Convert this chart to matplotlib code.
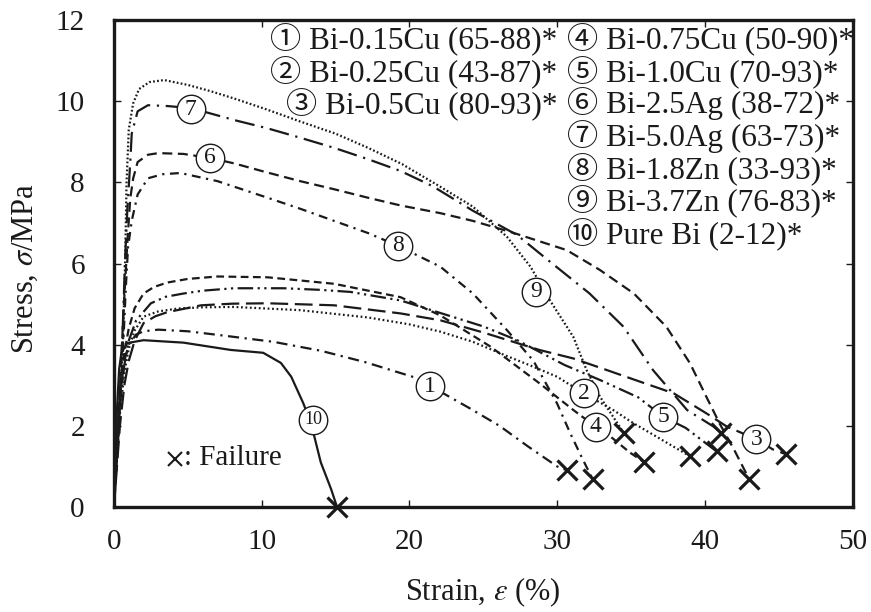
import matplotlib
matplotlib.use('Agg')
import matplotlib.pyplot as plt

plt.rcParams['font.family'] = ['Liberation Serif', 'Noto Sans CJK JP']
plt.rcParams['mathtext.fontset'] = 'stix'

# stress-strain curves (strain %, stress MPa)
strain_1 = [0, 0.2, 0.4, 0.7, 1.0, 1.5, 2.0, 3.0, 5.0, 7.5, 10.8, 14.0, 17.0, 20.3, 22.3, 24.0, 26.1, 28.0, 30.0, 30.7]
stress_1 = [0, 1.5, 2.7, 3.6, 4.0, 4.25, 4.33, 4.37, 4.33, 4.22, 4.07, 3.85, 3.57, 3.2, 2.8, 2.45, 2.0, 1.5, 1.0, 0.9]

strain_2 = [0, 0.2, 0.4, 0.7, 1.0, 1.4, 2.0, 3.0, 4.3, 6.0, 8.1, 12.6, 17.2, 20.0, 22.1, 24.3, 26.6, 28.3, 30.0, 31.8, 33.8, 35.1, 37.4, 39.0]
stress_2 = [0, 1.2, 2.3, 3.3, 3.9, 4.35, 4.69, 4.82, 4.89, 4.92, 4.93, 4.85, 4.67, 4.5, 4.32, 4.07, 3.72, 3.47, 3.21, 2.8, 2.39, 2.08, 1.59, 1.25]

strain_3 = [0, 0.2, 0.4, 0.7, 1.0, 1.4, 2.0, 2.8, 3.6, 5.9, 8.0, 10.4, 14.9, 19.4, 22.1, 25.0, 28.8, 31.1, 33.4, 35.6, 37.9, 40.1, 41.5, 43.5, 44.6, 45.5]
stress_3 = [0, 1.0, 2.0, 3.0, 3.6, 4.1, 4.53, 4.7, 4.8, 4.97, 5.01, 5.02, 4.97, 4.77, 4.6, 4.3, 3.87, 3.66, 3.37, 3.09, 2.8, 2.31, 1.98, 1.67, 1.42, 1.3]

strain_4 = [0, 0.2, 0.4, 0.7, 1.0, 1.4, 2.0, 2.7, 3.6, 5.0, 7.0, 10.4, 14.9, 19.4, 22.1, 25.5, 27.7, 28.8, 31.1, 32.6, 33.6, 34.9, 35.9]
stress_4 = [0, 1.5, 2.8, 3.8, 4.4, 4.9, 5.26, 5.42, 5.53, 5.62, 5.68, 5.66, 5.5, 5.17, 4.72, 3.95, 3.35, 3.05, 2.39, 1.98, 1.74, 1.35, 1.1]

strain_5 = [0, 0.2, 0.4, 0.7, 1.0, 1.5, 2.5, 3.5, 4.7, 6.0, 8.1, 11.5, 14.0, 16.0, 19.4, 22.1, 25.0, 27.3, 30.5, 32.9, 35.5, 37.2, 38.7, 40.8]
stress_5 = [0, 1.3, 2.5, 3.5, 4.1, 4.6, 5.02, 5.18, 5.26, 5.33, 5.39, 5.39, 5.35, 5.3, 5.09, 4.78, 4.45, 4.11, 3.5, 3.13, 2.7, 2.22, 1.95, 1.37]

strain_6 = [0, 0.3, 0.6, 0.9, 1.1, 1.3, 1.6, 2.3, 3.0, 4.7, 6.5, 8.1, 10.3, 12.6, 14.9, 17.2, 19.4, 22.1, 24.3, 27.0, 30.65, 32.9, 35.2, 37.4, 39.0, 40.1, 41.0, 42.0, 43.0]
stress_6 = [0, 2.0, 4.5, 6.5, 7.6, 8.1, 8.5, 8.68, 8.72, 8.7, 8.6, 8.47, 8.25, 8.03, 7.83, 7.62, 7.43, 7.24, 7.05, 6.76, 6.33, 5.84, 5.26, 4.44, 3.54, 2.72, 2.06, 1.4, 0.69]

strain_7 = [0, 0.3, 0.6, 0.75, 0.9, 1.1, 1.2, 1.6, 2.3, 3.6, 5.2, 6.3, 8.3, 10.4, 12.6, 14.9, 17.2, 19.4, 21.6, 24.3, 27.3, 29.5, 32.2, 34.5, 36.5, 38.8, 40.6, 41.1]
stress_7 = [0, 2.0, 4.5, 6.1, 7.3, 8.5, 9.2, 9.75, 9.9, 9.88, 9.83, 9.72, 9.52, 9.33, 9.1, 8.85, 8.57, 8.28, 7.9, 7.3, 6.7, 6.05, 5.26, 4.44, 3.37, 2.39, 1.98, 1.83]

strain_8 = [0, 0.3, 0.6, 0.8, 0.95, 1.2, 1.6, 2.3, 3.3, 4.5, 7.0, 10.4, 12.6, 14.9, 17.2, 19.2, 22.1, 24.3, 26.6, 28.4, 30.0, 30.9, 31.7, 32.4]
stress_8 = [0, 1.8, 3.8, 5.4, 6.4, 7.05, 7.7, 8.1, 8.2, 8.23, 8.03, 7.62, 7.35, 7.05, 6.75, 6.44, 5.92, 5.26, 4.36, 3.6, 2.55, 1.81, 1.2, 0.69]

strain_9 = [0, 0.3, 0.6, 0.75, 0.85, 1.0, 1.3, 1.7, 2.4, 3.4, 5.0, 6.5, 8.1, 10.3, 12.6, 15.0, 17.2, 19.5, 22.1, 24.3, 26.6, 28.2, 29.5, 31.1, 32.0, 32.9, 33.8, 34.5]
stress_9 = [0, 2.0, 4.0, 6.0, 8.0, 9.3, 9.95, 10.3, 10.47, 10.52, 10.4, 10.25, 10.07, 9.8, 9.5, 9.2, 8.85, 8.45, 7.89, 7.4, 6.66, 5.92, 5.1, 4.19, 3.37, 2.72, 2.22, 1.83]

strain_10 = [0, 0.1, 0.2, 0.35, 0.5, 0.9, 2.0, 4.7, 7.9, 10.1, 11.3, 12.0, 12.4, 12.8, 13.2, 13.5, 14.0, 14.7, 15.1]
stress_10 = [0, 1.2, 2.4, 3.4, 3.8, 4.04, 4.11, 4.05, 3.87, 3.8, 3.55, 3.21, 2.89, 2.57, 2.2, 1.83, 1.1, 0.44, 0]

alloys = ['Bi-0.15Cu (65-88)*', 'Bi-0.25Cu (43-87)*', 'Bi-0.5Cu (80-93)*',
          'Bi-0.75Cu (50-90)*', 'Bi-1.0Cu (70-93)*', 'Bi-2.5Ag (38-72)*',
          'Bi-5.0Ag (63-73)*', 'Bi-1.8Zn (33-93)*', 'Bi-3.7Zn (76-83)*',
          'Pure Bi (2-12)*']
circled = ['①', '②', '③', '④', '⑤', '⑥', '⑦', '⑧', '⑨', '⑩']

# where the circled numbers sit on the curves
tag_x = [21.4, 31.8, 43.5, 32.6, 37.2, 6.5, 5.2, 19.2, 28.6, 13.5]
tag_y = [2.98, 2.8, 1.67, 1.98, 2.22, 8.6, 9.8, 6.44, 5.3, 2.15]

strains = [strain_1, strain_2, strain_3, strain_4, strain_5,
           strain_6, strain_7, strain_8, strain_9, strain_10]
stresses = [stress_1, stress_2, stress_3, stress_4, stress_5,
            stress_6, stress_7, stress_8, stress_9, stress_10]

styles = [(0, (5, 2.5, 1, 2.5)),        # 1 dash-dot
          (0, (0.8, 1.2)),              # 2 dotted
          (0, (8, 3)),                  # 3 long dash
          (0, (3.5, 2)),                # 4 short dash
          (0, (7, 2, 1, 2, 1, 2)),      # 5 dash-dot-dot
          (0, (4.5, 2.5)),              # 6 dashed
          (0, (9, 3, 1, 3)),            # 7 long dash-dot
          (0, (4, 2.5, 1, 2.5)),        # 8 dash-dot
          (0, (0.8, 1.0)),              # 9 dotted
          '-']                          # 10 solid

ink = '#1a1a1a'

fig = plt.figure(figsize=(8.71, 6.12), dpi=100)
ax = fig.add_axes([114 / 871, 1 - 507 / 612, (852.5 - 114) / 871, (507 - 20) / 612])

for i in range(10):
    ax.plot(strains[i], stresses[i], color=ink, lw=1.6, linestyle=styles[i], zorder=2)
    # failure point
    ax.plot(strains[i][-1], stresses[i][-1], marker='x', ms=15, mew=2.3,
            color=ink, linestyle='none', zorder=4, clip_on=False)

# circled labels on the curves
for i in range(10):
    ax.plot(tag_x[i], tag_y[i], marker='o', ms=20.5, mfc='white', mec=ink,
            mew=1.0, linestyle='none', zorder=5)
    num = str(i + 1)
    ax.text(tag_x[i], tag_y[i], num, ha='center', va='center',
            fontsize=17 if i < 9 else 13, color=ink, zorder=6)

# failure key
ax.plot(4.1, 1.18, marker='x', ms=10, mew=1.5, color=ink, linestyle='none')
ax.text(4.75, 1.2, ': Failure', fontsize=21, va='center', ha='left', color=ink)

# key text, two columns
row0 = 39
row_h = 32.4
for i in range(3):
    fig.text(557 / 871, 1 - (row0 + i * row_h) / 612, circled[i] + ' ' + alloys[i],
             ha='right', va='center', fontsize=22.5, color=ink)
for i in range(3, 10):
    fig.text(567 / 871, 1 - (row0 + (i - 3) * row_h) / 612, circled[i] + ' ' + alloys[i],
             ha='left', va='center', fontsize=22.5, color=ink)

ax.set_xlim(0, 50)
ax.set_ylim(0, 12)
ax.set_xticks([0, 10, 20, 30, 40, 50])
ax.set_yticks([0, 2, 4, 6, 8, 10, 12])
ax.tick_params(direction='in', top=True, right=True, length=5, width=1,
               labelsize=21, colors=ink)
ax.tick_params(axis='x', pad=16)
ax.tick_params(axis='y', pad=21)
for s in ax.spines.values():
    s.set_linewidth(2.4)
    s.set_color(ink)

ax.set_xlabel(r'Strain, $\varepsilon$ (%)', fontsize=22, color=ink)
ax.set_ylabel(r'Stress, $\sigma$/MPa', fontsize=22, color=ink)
ax.xaxis.set_label_coords(0.5, -0.1745)
ax.xaxis.label.set_va('center')
ax.yaxis.set_label_coords(-0.1205, 0.49)
ax.yaxis.label.set_va('center')

fig.savefig('out.png', dpi=100)
